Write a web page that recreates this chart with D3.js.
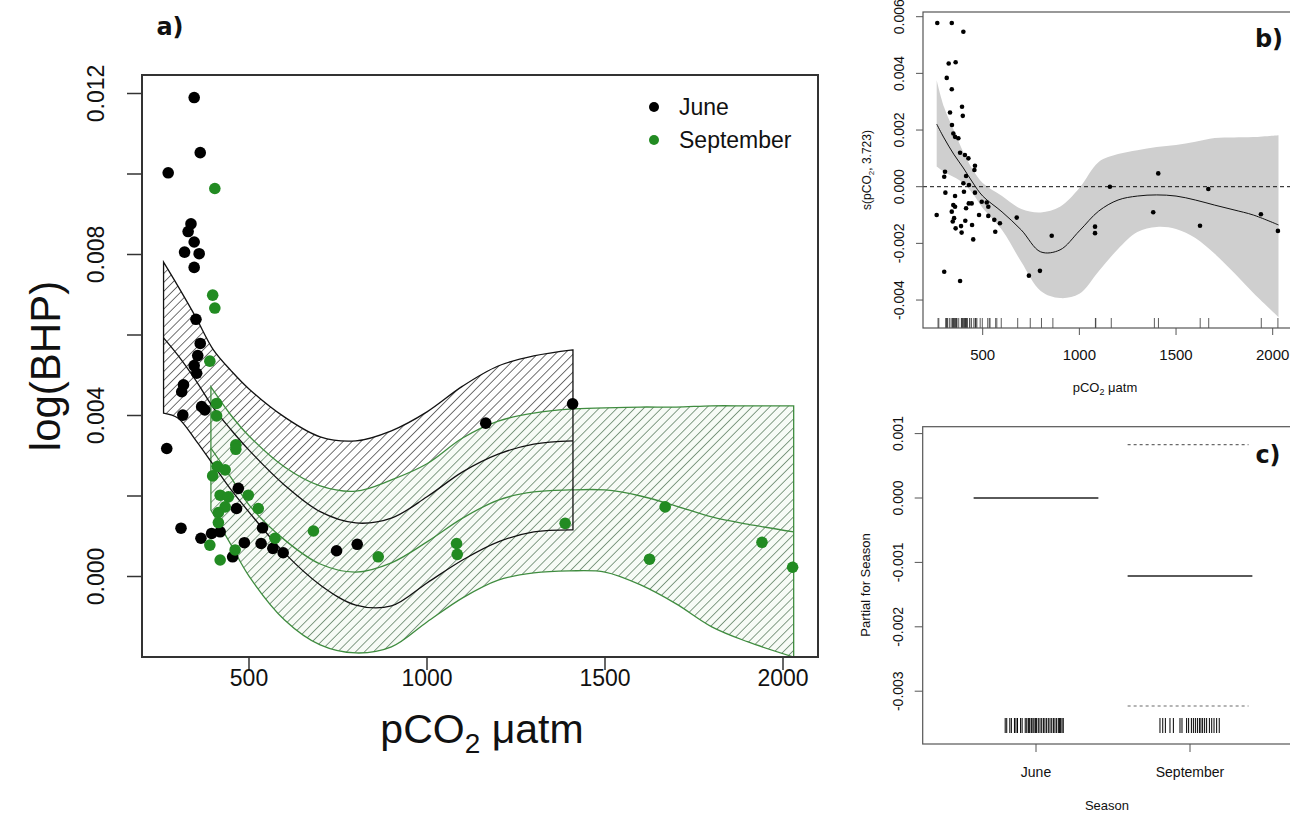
<!DOCTYPE html>
<html>
<head>
<meta charset="utf-8">
<script src="https://cdn.jsdelivr.net/npm/d3@7"></script>
<style>
  body { margin: 0; background: #fff; }
  text { font-family: "Liberation Sans", Arial, sans-serif; fill: #111; }
  .tag { font-family: "DejaVu Sans", Verdana, sans-serif; font-weight: bold; }
</style>
</head>
<body>
<svg id="chart" width="1290" height="815"></svg>
<script>
// ---- panel a: observations (pCO2 uatm, log(BHP))
const juneCO2 = [346, 363, 273, 337, 329, 346, 319, 360, 346, 351, 363, 356, 346, 353, 316, 311, 367, 376,
  314, 269, 470, 465, 309, 538, 365, 395, 419, 487, 534, 567, 596, 746, 804, 454, 1409, 1165];
const juneBHP = [0.0119, 0.01053, 0.01003, 0.00876, 0.00857, 0.00831, 0.00806, 0.00802, 0.00768, 0.00639,
  0.00579, 0.00549, 0.00524, 0.00505, 0.00476, 0.00459, 0.00422, 0.00414, 0.00401, 0.00318, 0.00219,
  0.00169, 0.0012, 0.00121, 0.00095, 0.00107, 0.00111, 0.00084, 0.00082, 0.0007, 0.00059, 0.00064,
  0.0008, 0.00049, 0.00429, 0.00381];
const sepCO2 = [404, 398, 404, 390, 409, 409, 463, 463, 411, 433, 398, 498, 419, 442, 433, 526, 414, 414,
  681, 573, 390, 461, 419, 863, 1083, 1085, 1388, 1669, 1625, 1941, 2027];
const sepBHP = [0.00964, 0.00699, 0.00667, 0.00535, 0.0043, 0.00399, 0.00327, 0.00316, 0.00273, 0.00265,
  0.0025, 0.00202, 0.00202, 0.00198, 0.00173, 0.00169, 0.00159, 0.00134, 0.00113, 0.00095, 0.00078,
  0.00066, 0.00041, 0.00049, 0.00082, 0.00055, 0.00132, 0.00173, 0.00043, 0.00085, 0.00023];

// fitted curves with confidence bands (values x 0.001)
const juneFitX = [260, 300, 350, 400, 450, 500, 600, 700, 800, 900, 1000, 1100, 1200, 1300, 1410];
const juneFit = [5.93, 5.50, 4.88, 4.19, 3.64, 3.14, 2.27, 1.61, 1.33, 1.45, 1.98, 2.60, 3.04, 3.29, 3.37];
const juneUpper = [7.81, 7.22, 6.45, 5.63, 5.11, 4.66, 3.96, 3.47, 3.37, 3.62, 4.09, 4.73, 5.23, 5.48, 5.63];
const juneLower = [4.06, 3.94, 3.39, 2.77, 2.15, 1.60, 0.58, -0.21, -0.71, -0.73, -0.16, 0.41, 0.86, 1.11, 1.16];

const sepFitX = [393, 450, 500, 600, 700, 800, 900, 1000, 1100, 1200, 1300, 1400, 1500, 1600, 1700, 1800, 1900, 2030];
const sepFit = [3.19, 2.45, 1.78, 0.91, 0.31, 0.11, 0.34, 0.86, 1.45, 1.90, 2.10, 2.15, 2.15, 2.00, 1.75, 1.48, 1.30, 1.11];
const sepUpper = [4.71, 4.00, 3.49, 2.72, 2.25, 2.12, 2.40, 2.80, 3.44, 3.86, 4.06, 4.16, 4.19, 4.21, 4.21, 4.24, 4.24, 4.24];
const sepLower = [1.65, 0.78, 0.01, -1.08, -1.70, -1.90, -1.75, -1.13, -0.53, -0.09, 0.09, 0.14, 0.11, -0.21, -0.68, -1.25, -1.62, -2.00];

const aYTicks = [0, 0.002, 0.004, 0.006, 0.008, 0.010, 0.012];
const aYLabels = [0, 0.004, 0.008, 0.012];
const co2Ticks = [500, 1000, 1500, 2000];
const seasons = ["June", "September"];
const seasonColors = ["#000000", "#228b22"];

// ---- panel b: smooth term s(pCO2, 3.723) with partial residuals (x 0.001)
const smoothX = [262, 300, 350, 400, 450, 500, 600, 700, 800, 900, 1000, 1100, 1200, 1300, 1400, 1500, 1600, 1700, 1800, 1900, 2030];
const smoothFit = [2.21, 1.72, 1.15, 0.66, 0.13, -0.33, -0.89, -1.53, -2.30, -2.23, -1.56, -0.86, -0.47, -0.33, -0.29, -0.33, -0.47, -0.65, -0.82, -1.00, -1.35];
const smoothUpper = [3.76, 2.81, 2.00, 1.22, 0.59, 0.13, -0.33, -0.79, -0.91, -0.71, -0.05, 0.87, 1.15, 1.29, 1.40, 1.47, 1.59, 1.72, 1.74, 1.75, 1.82];
const smoothLower = [0.71, 0.52, 0.34, 0.13, -0.26, -0.75, -1.53, -2.66, -3.68, -3.93, -3.78, -2.98, -2.20, -1.60, -1.42, -1.49, -1.81, -2.37, -3.04, -3.75, -4.60];
const residCO2 = [265, 340, 400, 324, 360, 314, 340, 393, 331, 397, 341, 348, 357, 374, 383, 408, 426, 460, 457,
  301, 305, 414, 400, 429, 307, 357, 403, 460, 1158, 1408, 1667, 262, 340, 348, 357, 352, 345, 360, 388, 391,
  410, 414, 428, 443, 451, 445, 481, 495, 521, 529, 529, 560, 565, 589, 676, 301, 383, 739, 796, 857, 1081,
  1081, 1382, 1624, 1939, 2027];
const residVal = [5.78, 5.78, 5.47, 4.35, 4.39, 3.84, 3.44, 2.82, 2.62, 2.50, 2.18, 1.88, 1.76, 1.71, 1.20, 1.12,
  1.00, 0.74, 0.59, 0.35, 0.53, 0.38, 0.12, 0.06, -0.21, -0.33, -0.18, -0.21, 0.00, 0.47, -0.08, -1.00, -0.88,
  -0.65, -0.71, -1.11, -1.23, -1.47, -1.39, -1.62, -1.20, -0.76, -0.59, -0.59, -1.86, -1.35, -1.00, -0.53,
  -0.56, -0.71, -1.03, -1.17, -1.59, -1.29, -1.09, -3.00, -3.33, -3.14, -2.97, -1.73, -1.41, -1.64, -0.90,
  -1.38, -0.97, -1.56];
const bYTicks = [-0.004, -0.002, 0, 0.002, 0.004, 0.006];

// ---- panel c: parametric Season term
const seasonEffect = [0, -0.00121];
const seasonUpper = [null, 0.00083];
const seasonLower = [null, -0.00323];
const juneJitter = [-0.20, -0.19, -0.17, -0.16, -0.14, -0.13, -0.12, -0.10, -0.09, -0.07, -0.06, -0.05, -0.045,
  -0.04, -0.03, -0.02, -0.013, -0.004, 0.004, 0.015, 0.026, 0.037, 0.048, 0.058, 0.069, 0.08, 0.091, 0.102,
  0.113, 0.123, 0.134, 0.145, 0.152, 0.16, 0.169, 0.177];
const sepJitter = [-0.195, -0.177, -0.16, -0.13, -0.108, -0.065, -0.052, -0.022, -0.009, 0.009, 0.022, 0.035,
  0.048, 0.061, 0.071, 0.082, 0.095, 0.108, 0.126, 0.141, 0.156, 0.173, 0.19];
const cYTicks = [-0.003, -0.002, -0.001, 0, 0.001];

const svg = d3.select('#chart');
const fmt = v => (Math.abs(v) < 1e-12 ? 0 : v).toFixed(3);
const milli = v => v / 1000;
const smooth = d3.curveCatmullRom.alpha(0.5);

// ---------- defs: hatch patterns and clip
const defs = svg.append('defs');
function hatch(id, color, w) {
  defs.append('pattern')
    .attr('id', id)
    .attr('patternUnits', 'userSpaceOnUse')
    .attr('width', 6.3).attr('height', 6.3)
    .attr('patternTransform', 'rotate(45)')
    .append('line')
    .attr('x1', 0).attr('y1', -1).attr('x2', 0).attr('y2', 8)
    .attr('stroke', color).attr('stroke-width', w);
}
hatch('hatchBlack', '#000', 1.1);
hatch('hatchGreen', '#24502a', 1.1);

// ================= PANEL A =================
const A = {left: 142, right: 818, top: 75, bottom: 657};
const xa = d3.scaleLinear().domain([500, 2000]).range([249, 783]);
const ya = d3.scaleLinear().domain([0, 0.012]).range([576.5, 93.5]);

defs.append('clipPath').attr('id', 'clipA')
  .append('rect').attr('x', A.left).attr('y', A.top)
  .attr('width', A.right - A.left).attr('height', A.bottom - A.top);

const gA = svg.append('g');
const plotA = gA.append('g').attr('clip-path', 'url(#clipA)');

function bandRows(xs, fit, up, lo) {
  return xs.map((x, i) => ({x: x, fit: milli(fit[i]), up: milli(up[i]), lo: milli(lo[i])}));
}
const juneRows = bandRows(juneFitX, juneFit, juneUpper, juneLower);
const sepRows = bandRows(sepFitX, sepFit, sepUpper, sepLower);

const areaA = d3.area().x(d => xa(d.x)).y0(d => ya(d.lo)).y1(d => ya(d.up)).curve(smooth);
const lineA = key => d3.line().x(d => xa(d.x)).y(d => ya(d[key])).curve(smooth);

// June hatch
plotA.append('path').datum(juneRows).attr('d', areaA)
  .attr('fill', 'url(#hatchBlack)').attr('stroke', 'none');
// September band (covers June hatch)
plotA.append('path').datum(sepRows).attr('d', areaA)
  .attr('fill', '#f7fbf6').attr('stroke', 'none');
plotA.append('path').datum(sepRows).attr('d', areaA)
  .attr('fill', 'url(#hatchGreen)').attr('stroke', '#3f8c3f').attr('stroke-width', 1.3);
plotA.append('path').datum(sepRows).attr('d', lineA('fit'))
  .attr('fill', 'none').attr('stroke', '#3f8c3f').attr('stroke-width', 1.3);
// June outline and fit on top
plotA.append('path').datum(juneRows).attr('d', areaA)
  .attr('fill', 'none').attr('stroke', '#111').attr('stroke-width', 1.3);
plotA.append('path').datum(juneRows).attr('d', lineA('fit'))
  .attr('fill', 'none').attr('stroke', '#111').attr('stroke-width', 1.3);

// points
const ptsA = [
  ...juneCO2.map((x, i) => ({x: x, y: juneBHP[i], s: 0})),
  ...sepCO2.map((x, i) => ({x: x, y: sepBHP[i], s: 1}))
];
plotA.selectAll('circle.pt').data(ptsA).enter().append('circle')
  .attr('class', 'pt')
  .attr('cx', d => xa(d.x)).attr('cy', d => ya(d.y)).attr('r', 5.8)
  .attr('fill', d => seasonColors[d.s]);

// box
gA.append('rect').attr('x', A.left).attr('y', A.top)
  .attr('width', A.right - A.left).attr('height', A.bottom - A.top)
  .attr('fill', 'none').attr('stroke', '#333').attr('stroke-width', 2);

// y axis
gA.selectAll('line.yt').data(aYTicks).enter().append('line')
  .attr('x1', A.left - 15).attr('x2', A.left)
  .attr('y1', d => ya(d)).attr('y2', d => ya(d))
  .attr('stroke', '#333').attr('stroke-width', 1.5);
gA.selectAll('text.yl').data(aYLabels).enter().append('text')
  .attr('transform', d => `translate(104,${ya(d)}) rotate(-90)`)
  .attr('text-anchor', 'middle')
  .style('font-size', '23px')
  .text(fmt);
// x axis
gA.selectAll('line.xt').data(co2Ticks).enter().append('line')
  .attr('x1', d => xa(d)).attr('x2', d => xa(d))
  .attr('y1', A.bottom).attr('y2', A.bottom + 13)
  .attr('stroke', '#333').attr('stroke-width', 1.5);
gA.selectAll('text.xl').data(co2Ticks).enter().append('text')
  .attr('x', d => xa(d)).attr('y', 686)
  .attr('text-anchor', 'middle')
  .style('font-size', '23px')
  .text(d => d);

// axis titles
const xtA = gA.append('text').attr('x', 482).attr('y', 743)
  .attr('text-anchor', 'middle').style('font-size', '41px');
xtA.append('tspan').text('pCO');
xtA.append('tspan').attr('dy', 10).style('font-size', '28px').text('2');
xtA.append('tspan').attr('dy', -10).text(' μatm');

gA.append('text')
  .attr('transform', 'translate(60,366) rotate(-90)')
  .attr('text-anchor', 'middle').style('font-size', '42px')
  .text('log(BHP)');

gA.append('text').attr('class', 'tag').attr('x', 170).attr('y', 35)
  .attr('text-anchor', 'middle').style('font-size', '24px').text('a)');

// legend
const legA = gA.append('g');
seasons.forEach((s, i) => {
  legA.append('circle').attr('cx', 654).attr('cy', 107 + i * 33).attr('r', 5)
    .attr('fill', seasonColors[i]);
  legA.append('text').attr('x', 679).attr('y', 115 + i * 33)
    .style('font-size', '23px').text(s);
});

// ================= PANEL B =================
const B = {left: 923, right: 1300, top: 12, bottom: 328};
const xb = d3.scaleLinear().domain([500, 2000]).range([982.7, 1272.7]);
const yb = d3.scaleLinear().domain([0, 0.006]).range([186.7, 16.7]);
const gB = svg.append('g');

const smRows = smoothX.map((x, i) => ({x: x, fit: milli(smoothFit[i]), up: milli(smoothUpper[i]), lo: milli(smoothLower[i])}));
gB.append('path').datum(smRows)
  .attr('d', d3.area().x(d => xb(d.x)).y0(d => yb(d.lo)).y1(d => yb(d.up)).curve(smooth))
  .attr('fill', '#cfcfcf');
gB.append('line').attr('x1', B.left).attr('x2', B.right)
  .attr('y1', yb(0)).attr('y2', yb(0))
  .attr('stroke', '#111').attr('stroke-width', 1).attr('stroke-dasharray', '4,3');
gB.append('path').datum(smRows)
  .attr('d', d3.line().x(d => xb(d.x)).y(d => yb(d.fit)).curve(smooth))
  .attr('fill', 'none').attr('stroke', '#111').attr('stroke-width', 1);

gB.selectAll('circle.res').data(residCO2).enter().append('circle')
  .attr('cx', d => xb(d)).attr('cy', (d, i) => yb(milli(residVal[i]))).attr('r', 2.3)
  .attr('fill', '#000');

// rug
gB.selectAll('line.rug').data(juneCO2.concat(sepCO2)).enter().append('line')
  .attr('x1', d => xb(d)).attr('x2', d => xb(d))
  .attr('y1', B.bottom - 10).attr('y2', B.bottom)
  .attr('stroke', '#333').attr('stroke-width', 0.8);

gB.append('rect').attr('x', B.left).attr('y', B.top)
  .attr('width', B.right - B.left).attr('height', B.bottom - B.top)
  .attr('fill', 'none').attr('stroke', '#555').attr('stroke-width', 1.2);

gB.selectAll('line.yt').data(bYTicks).enter().append('line')
  .attr('x1', B.left - 7).attr('x2', B.left)
  .attr('y1', d => yb(d)).attr('y2', d => yb(d)).attr('stroke', '#555');
gB.selectAll('text.yl').data(bYTicks).enter().append('text')
  .attr('transform', d => `translate(904,${yb(d)}) rotate(-90)`)
  .attr('text-anchor', 'middle').style('font-size', '14px').text(fmt);
gB.selectAll('line.xt').data(co2Ticks).enter().append('line')
  .attr('x1', d => xb(d)).attr('x2', d => xb(d))
  .attr('y1', B.bottom).attr('y2', B.bottom + 7).attr('stroke', '#555');
gB.selectAll('text.xl').data(co2Ticks).enter().append('text')
  .attr('x', d => xb(d)).attr('y', 360)
  .attr('text-anchor', 'middle').style('font-size', '15px').text(d => d);

const xtB = gB.append('text').attr('x', 1105).attr('y', 392)
  .attr('text-anchor', 'middle').style('font-size', '13px');
xtB.append('tspan').text('pCO');
xtB.append('tspan').attr('dy', 3).style('font-size', '9px').text('2');
xtB.append('tspan').attr('dy', -3).text(' μatm');

const ytB = gB.append('text').attr('transform', 'translate(871,170) rotate(-90)')
  .attr('text-anchor', 'middle').style('font-size', '12px');
ytB.append('tspan').text('s(pCO');
ytB.append('tspan').attr('dy', 3).style('font-size', '8px').text('2');
ytB.append('tspan').attr('dy', -3).text(', 3.723)');

gB.append('text').attr('class', 'tag').attr('x', 1269).attr('y', 47)
  .attr('text-anchor', 'middle').style('font-size', '24px').text('b)');

// ================= PANEL C =================
const C = {left: 922.7, right: 1300, top: 426.7, bottom: 744};
const xc = d3.scaleLinear().domain([0, 1]).range([1036, 1190]);
const yc = d3.scaleLinear().domain([0, 0.001]).range([498, 433.6]);
const gC = svg.append('g');
const half = 0.405;

gC.selectAll('line.eff').data(seasonEffect).enter().append('line')
  .attr('x1', (d, i) => xc(i - half)).attr('x2', (d, i) => xc(i + half))
  .attr('y1', d => yc(d)).attr('y2', d => yc(d))
  .attr('stroke', '#5a5a5a').attr('stroke-width', 2);
[seasonUpper, seasonLower].forEach(arr => {
  arr.forEach((v, i) => {
    if (v === null) return;
    gC.append('line')
      .attr('x1', xc(i - half)).attr('x2', xc(i + 0.38))
      .attr('y1', yc(v)).attr('y2', yc(v))
      .attr('stroke', '#6a6a6a').attr('stroke-width', 1.2).attr('stroke-dasharray', '3,3');
  });
});

const rugC = [
  ...juneJitter.map(j => 0 + j),
  ...sepJitter.map(j => 1 + j)
];
gC.selectAll('line.rug').data(rugC).enter().append('line')
  .attr('x1', d => xc(d)).attr('x2', d => xc(d))
  .attr('y1', 718).attr('y2', 733)
  .attr('stroke', '#000').attr('stroke-width', 1);

gC.append('rect').attr('x', C.left).attr('y', C.top)
  .attr('width', C.right - C.left).attr('height', C.bottom - C.top)
  .attr('fill', 'none').attr('stroke', '#555').attr('stroke-width', 1.2);

gC.selectAll('line.yt').data(cYTicks).enter().append('line')
  .attr('x1', C.left - 8).attr('x2', C.left)
  .attr('y1', d => yc(d)).attr('y2', d => yc(d)).attr('stroke', '#555');
gC.selectAll('text.yl').data(cYTicks).enter().append('text')
  .attr('transform', d => `translate(903,${yc(d)}) rotate(-90)`)
  .attr('text-anchor', 'middle').style('font-size', '14px').text(fmt);
gC.selectAll('line.xt').data(seasons).enter().append('line')
  .attr('x1', (d, i) => xc(i)).attr('x2', (d, i) => xc(i))
  .attr('y1', C.bottom).attr('y2', C.bottom + 8).attr('stroke', '#555');
gC.selectAll('text.xl').data(seasons).enter().append('text')
  .attr('x', (d, i) => xc(i)).attr('y', 777)
  .attr('text-anchor', 'middle').style('font-size', '14px').text(d => d);

gC.append('text').attr('x', 1107).attr('y', 810)
  .attr('text-anchor', 'middle').style('font-size', '13px').text('Season');
gC.append('text').attr('transform', 'translate(870,585) rotate(-90)')
  .attr('text-anchor', 'middle').style('font-size', '13px').text('Partial for Season');

gC.append('text').attr('class', 'tag').attr('x', 1268).attr('y', 463)
  .attr('text-anchor', 'middle').style('font-size', '24px').text('c)');
</script>
</body>
</html>
